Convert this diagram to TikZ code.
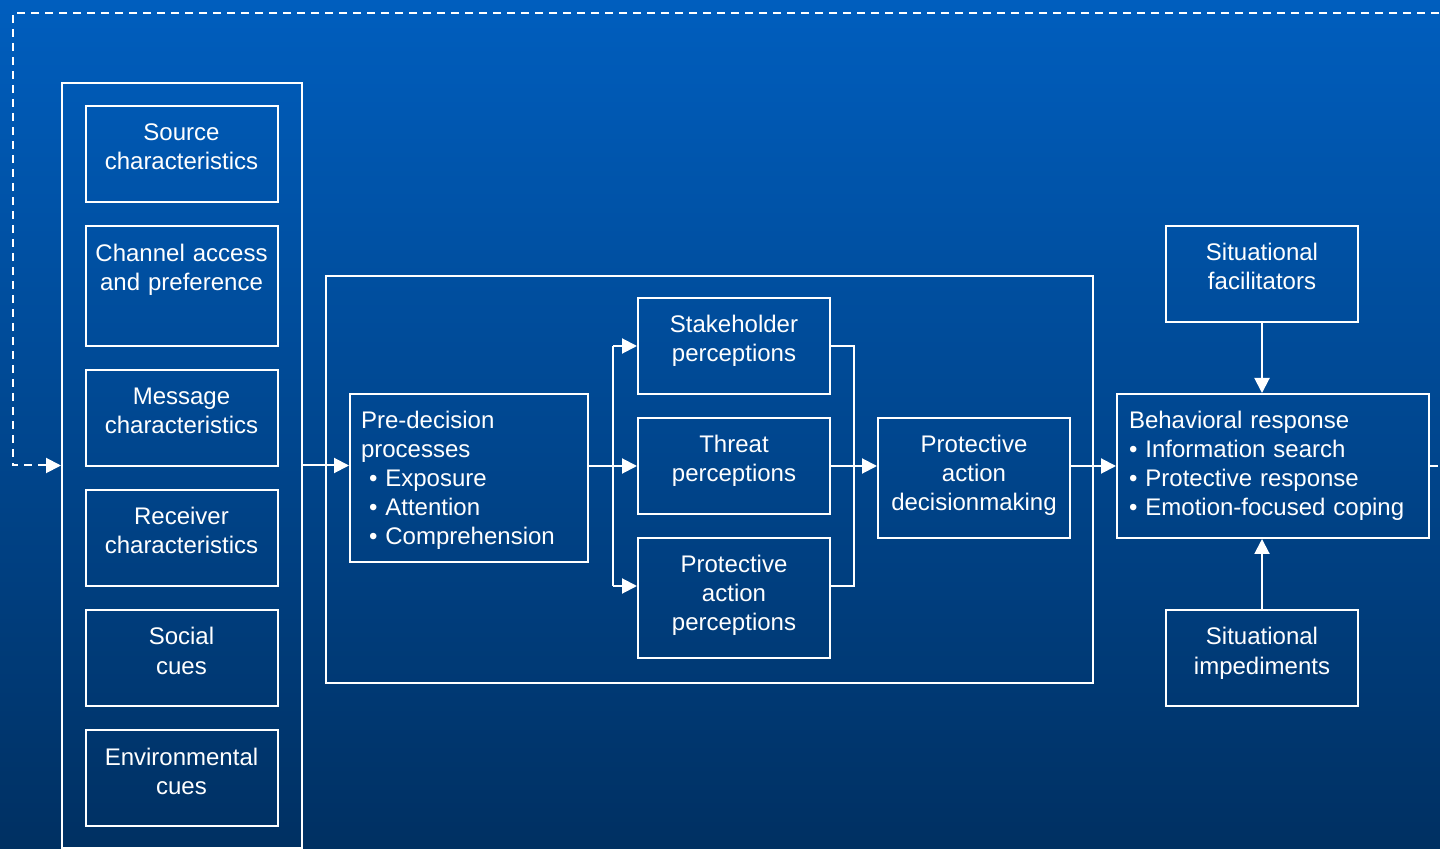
\documentclass[tikz,border=0pt]{standalone}
\usepackage{fontspec}
\setmainfont{Liberation Sans}
\usetikzlibrary{arrows.meta}
\definecolor{bgtop}{RGB}{0,94,190}
\definecolor{bgbot}{RGB}{0,48,98}
\begin{document}
\begin{tikzpicture}[
    x=0.5pt, y=-0.5pt,
    white, line width=1pt,
    arr/.style={-{Triangle[length=7.5pt,width=7.5pt]}},
    fb/.style={arr, dash pattern=on 4pt off 3pt},
    frame/.style={draw, rectangle, inner sep=0pt},
    box/.style={draw, rectangle, align=center, text width=96pt,
      inner xsep=0pt, inner ysep=0pt, text height=17.5pt, text depth=30.5pt,
      font=\fontsize{12}{14.5}\selectfont},
    tall/.style={text depth=42.5pt},
    listbox/.style={box, align=left}
]
  \useasboundingbox (0,0) rectangle (1440,849);
  \clip (0,0) rectangle (1440,849);
  \shade[top color=bgtop, bottom color=bgbot] (0,0) rectangle (1440,849);

  % frames
  \node[frame, minimum width=120pt, minimum height=382.5pt] (cues) at (182,465.5) {};
  \node[frame, minimum width=383.5pt, minimum height=203.5pt] (proc) at (709.5,479.5) {};

  % nodes
  \node[box] (src) at (181.5,154) {Source\\characteristics};
  \node[box, tall] (chan) at (181.5,286.5) {Channel access\\and preference};
  \node[box] (msg) at (181.5,418) {Message\\characteristics};
  \node[box] (rcv) at (181.5,538) {Receiver\\characteristics};
  \node[box] (soc) at (181.5,658) {Social\\cues};
  \node[box] (env) at (181.5,778) {Environmental\\cues};

  \node[listbox, text width=108pt, inner xsep=5.5pt, text depth=66.5pt] (pre) at (469,478)
    {Pre-decision\\processes\\
     \hspace*{4pt}\textbullet~Exposure\\
     \hspace*{4pt}\textbullet~Attention\\
     \hspace*{4pt}\textbullet~Comprehension};

  \node[box] (stake) at (734,346) {Stakeholder\\perceptions};
  \node[box] (threat) at (734,466) {Threat\\perceptions};
  \node[box, tall] (pap) at (734,598) {Protective\\action\\perceptions};
  \node[box, tall] (pad) at (974,478) {Protective\\action\\decisionmaking};

  \node[listbox, text width=144pt, inner xsep=6pt, text depth=54.5pt] (beh) at (1273,466)
    {Behavioral response\\
     \textbullet~Information search\\
     \textbullet~Protective response\\
     \textbullet~Emotion-focused coping};

  \node[box] (fac) at (1262,274) {Situational\\facilitators};
  \node[box] (imp) at (1262,658) {Situational\\impediments};

  \coordinate (fork) at (613,466);
  \coordinate (join) at (854,466);
  \coordinate (papin) at ([yshift=6pt]pap.west);
  \coordinate (papout) at ([yshift=6pt]pap.east);

  % edges
  \draw[arr] (cues.east) -- (cues.east -| pre.west);
  \draw (pre.east |- fork) -- (fork);
  \draw (fork |- stake.west) -- (fork |- papin);
  \draw[arr] (fork |- stake.west) -- (stake.west);
  \draw[arr] (fork) -- (threat.west);
  \draw[arr] (fork |- papin) -- (papin);

  \draw (stake.east) -- (join |- stake.east) -- (join |- papout) -- (papout);
  \draw[arr] (threat.east) -- (threat.east -| pad.west);
  \draw[arr] (beh.west -| pad.east) -- (beh.west);

  \draw[arr] (fac.south) -- (fac.south |- beh.north);
  \draw[arr] (imp.north) -- (imp.north |- beh.south);

  % feedback loop
  \draw[fb] (beh.east) -- (1460,466) |- (13,13) |- (cues.west);
\end{tikzpicture}
\end{document}
